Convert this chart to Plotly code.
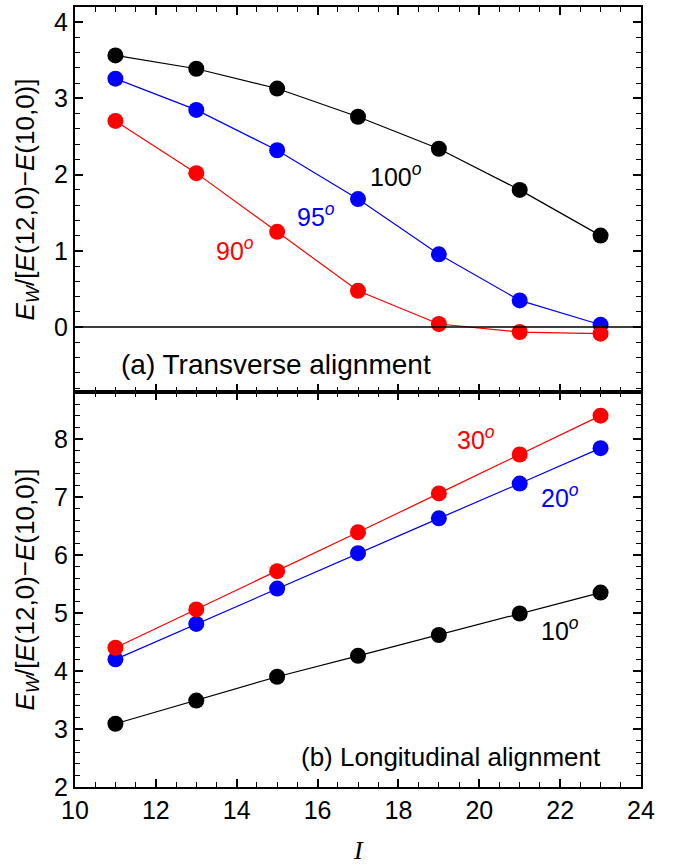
import plotly.graph_objects as go

# ---- data ----
I_vals = [11, 13, 15, 17, 19, 21, 23]
trans_100 = [3.565, 3.39, 3.13, 2.76, 2.34, 1.80, 1.20]
trans_95 = [3.26, 2.85, 2.32, 1.68, 0.955, 0.35, 0.03]
trans_90 = [2.705, 2.02, 1.25, 0.476, 0.04, -0.065, -0.087]
long_10 = [3.09, 3.49, 3.90, 4.26, 4.62, 4.99, 5.35]
long_20 = [4.20, 4.81, 5.42, 6.03, 6.63, 7.23, 7.84]
long_30 = [4.40, 5.06, 5.72, 6.39, 7.06, 7.73, 8.40]

x_ticks = [10, 12, 14, 16, 18, 20, 22, 24]
top_yticks = [0, 1, 2, 3, 4]
bot_yticks = [2, 3, 4, 5, 6, 7, 8]

RED, BLUE, BLACK = "#ff0000", "#0000ff", "#000000"
FONT = "Liberation Sans, Arial, Helvetica, sans-serif"

fig = go.Figure()

def add(x, y, color, xa, ya):
    fig.add_trace(go.Scatter(
        x=x, y=y, mode="lines+markers", xaxis=xa, yaxis=ya,
        line=dict(color=color, width=1.2),
        marker=dict(color=color, size=16, line=dict(width=0)),
        showlegend=False, hoverinfo="skip"))

# top panel (transverse)
add(I_vals, trans_100, BLACK, "x2", "y2")
add(I_vals, trans_95, BLUE, "x2", "y2")
add(I_vals, trans_90, RED, "x2", "y2")
# bottom panel (longitudinal)
add(I_vals, long_10, BLACK, "x", "y")
add(I_vals, long_20, BLUE, "x", "y")
add(I_vals, long_30, RED, "x", "y")

split = 0.5066
axis_common = dict(
    showline=True, linecolor="black", linewidth=2, mirror="allticks",
    ticks="inside", ticklen=8, tickwidth=1.6, tickcolor="black",
    showgrid=False, zeroline=False,
    tickfont=dict(family=FONT, size=25, color="black"),
)
minor_x = dict(dtick=0.5, ticks="inside", ticklen=5, tickwidth=1.3, tickcolor="black", showgrid=False)
minor_y = dict(dtick=0.2, ticks="inside", ticklen=5, tickwidth=1.3, tickcolor="black", showgrid=False)

fig.update_layout(
    width=678, height=868,
    margin=dict(l=75, r=37, t=5, b=81),
    paper_bgcolor="white", plot_bgcolor="white",
    xaxis=dict(axis_common, range=[10, 24], tickvals=x_ticks, anchor="y",
               minor=minor_x, domain=[0, 1]),
    yaxis=dict(axis_common, range=[2, 8.81], tickvals=bot_yticks, anchor="x",
               minor=minor_y, domain=[0, split]),
    xaxis2=dict(axis_common, range=[10, 24], tickvals=x_ticks, anchor="y2",
                matches="x", showticklabels=False, minor=minor_x, domain=[0, 1]),
    yaxis2=dict(axis_common, range=[-0.85, 4.2], tickvals=top_yticks, anchor="x2",
                minor=minor_y, domain=[split, 1]),
)

# zero line in top panel
fig.add_shape(type="line", xref="x2 domain", x0=0, x1=1, yref="y2", y0=0, y1=0,
              line=dict(color="black", width=1.5), layer="above")

def ann(text, x, y, xref, yref, color, size):
    fig.add_annotation(text=text, x=x, y=y, xref=xref, yref=yref, showarrow=False,
                       font=dict(family=FONT, size=size, color=color),
                       xanchor="center", yanchor="middle")

deg = "<sup><i>o</i></sup>"
ann("100" + deg, 17.95, 2.0, "x2", "y2", BLACK, 25)
ann("95" + deg, 15.97, 1.47, "x2", "y2", BLUE, 25)
ann("90" + deg, 13.95, 1.03, "x2", "y2", RED, 25)
ann("(a) Transverse alignment", 14.98, -0.49, "x2", "y2", BLACK, 28)

ann("30" + deg, 19.93, 8.02, "x", "y", RED, 25)
ann("20" + deg, 22.0, 7.01, "x", "y", BLUE, 25)
ann("10" + deg, 22.0, 4.72, "x", "y", BLACK, 25)
ann("(b) Longitudinal alignment", 19.3, 2.52, "x", "y", BLACK, 26)

ytitle = "<i>E</i><sub><i>W</i></sub>/[<i>E</i>(12,0)\u2212<i>E</i>(10,0)]"
for yc in [(split + 1) / 2, split / 2]:
    fig.add_annotation(text=ytitle, x=0, y=yc, xref="paper", yref="paper",
                       xshift=-49, textangle=-90, showarrow=False,
                       font=dict(family=FONT, size=26, color="black"),
                       xanchor="center", yanchor="middle")

fig.add_annotation(text="<i>I</i>", x=0.5, y=0, xref="paper", yref="paper",
                   yshift=-63, showarrow=False,
                   font=dict(family="Liberation Serif, Times New Roman, serif", size=26, color="black"),
                   xanchor="center", yanchor="middle")

fig.write_html("out.html")
